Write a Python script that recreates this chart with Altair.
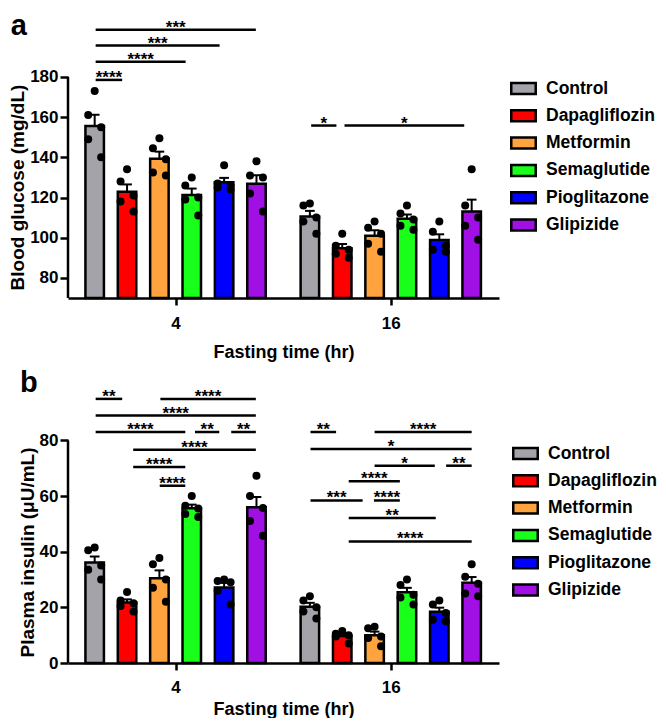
import altair as alt
import pandas as pd

FONT = "Liberation Sans"

treatments = ["Control", "Dapagliflozin", "Metformin", "Semaglutide", "Pioglitazone", "Glipizide"]
colors = ["#a3a3a9", "#ff0000", "#ffa33f", "#1aff1a", "#0000ff", "#a00fe3"]
fasting_groups = ["4", "16"]

# Blood glucose (mg/dL), five mice per bar
glucose_4h = [
    [173, 161, 155, 149, 140],
    [134, 128, 121, 118, 113],
    [149.5, 144.5, 139, 132.5, 131],
    [130, 126, 120, 119, 111],
    [136, 127, 126, 125, 124],
    [138, 131, 130, 122, 113],
]
glucose_16h = [
    [117, 116, 110, 108, 102],
    [102, 96, 94, 92, 90],
    [108, 105, 102, 97, 93],
    [116, 112, 109, 106, 104],
    [108, 103, 96, 94, 93],
    [134, 116, 110, 106, 99],
]
# Plasma insulin (uU/mL)
insulin_4h = [
    [41.5, 40.5, 35, 33.5, 30],
    [25.5, 22.5, 21.5, 20.5, 18.5],
    [37.7, 35.5, 30, 27, 22],
    [60, 56.5, 55.5, 53.5, 52.5],
    [30, 29.5, 29, 26, 21],
    [67.3, 60, 55.7, 51, 45.7],
]
insulin_16h = [
    [24, 22.5, 20, 18.5, 16],
    [11.5, 10.5, 10, 9.5, 7],
    [13, 12.5, 9.5, 9, 6],
    [30, 28, 24.5, 23.5, 21],
    [22.5, 21, 18, 15.5, 15],
    [35.5, 31, 28.5, 25, 24],
]

# significance brackets: start / end (bar index units), height, label
sig_a_start = [0.03, 0.03, 0.03, 0.03, 6.69, 7.72]
sig_a_end = [0.85, 2.81, 3.86, 4.98, 7.47, 11.42]
sig_a_level = [178.5, 187.5, 195.6, 203.4, 155.8, 155.8]
sig_a_label = ["****", "****", "***", "***", "*", "*"]

sig_b_start = [0.03, 2.03, 0.03, 0.03, 3.10, 4.22, 1.19, 1.19, 2.01,
               6.67, 8.65, 6.67, 8.65, 10.86, 7.85, 6.67, 8.63, 7.85, 7.85]
sig_b_end = [0.85, 4.98, 4.98, 2.80, 3.85, 4.98, 4.98, 2.80, 2.80,
             7.46, 11.65, 11.65, 10.51, 11.65, 9.43, 8.28, 9.43, 10.54, 11.65]
sig_b_level = [94.9, 94.9, 88.9, 83.0, 83.0, 83.0, 76.6, 70.4, 63.7,
               83.0, 83.0, 76.9, 70.9, 70.9, 65.3, 58.4, 58.4, 52.1, 43.7]
sig_b_label = ["**", "****", "****", "****", "**", "**", "****", "****", "****",
               "**", "****", "*", "*", "**", "****", "***", "****", "**", "****"]

GROUP_GAP = 6.65
JITTER = [0.0, -0.2, 0.2, -0.2, 0.2]
X_DOMAIN = [-0.67, 12.34]
PLOT_W = 431


def long_table(series_by_group):
    rows = []
    for gi, series in enumerate(series_by_group):
        for ti, vals in enumerate(series):
            for k, v in enumerate(vals):
                rows.append({"group": fasting_groups[gi], "treatment": treatments[ti],
                             "pos": ti + gi * GROUP_GAP, "jit": JITTER[k % len(JITTER)],
                             "value": v})
    return pd.DataFrame(rows)


def sig_table(s, e, lv, lb):
    return pd.DataFrame({"x1": s, "x2": e, "level": lv, "label": lb})


def panel(df, sig, ymin, ymax, ytop_axis, yticks, ytitle, height, letter, title_offset,
          title_center, legend_x, legend_y, x_title_pad, x_label_pad):
    xscale = alt.Scale(domain=X_DOMAIN, nice=False, zero=False)
    yscale = alt.Scale(domain=[ymin, ymax], nice=False, zero=False)
    x_axis = alt.Axis(values=[2.5, 2.5 + GROUP_GAP],
                      labelExpr="datum.value < 5 ? '4' : '16'",
                      grid=False, domainColor="black", domainWidth=2.5,
                      tickColor="black", tickWidth=2.5, tickSize=7,
                      labelFont=FONT, labelFontSize=17, labelFontWeight="bold",
                      labelColor="black", labelPadding=x_label_pad,
                      titleFont=FONT, titleFontSize=18, titleFontWeight="bold",
                      titleColor="black", titlePadding=x_title_pad)
    y_axis = alt.Axis(values=yticks, grid=False, domain=False,
                      tickColor="black", tickWidth=2.5, tickSize=8,
                      labelFont=FONT, labelFontSize=17, labelFontWeight="bold",
                      labelColor="black", labelPadding=2,
                      titleFont=FONT, titleFontSize=19, titleFontWeight="bold",
                      titleColor="black", titlePadding=2, titleY=title_center)
    xt = "Fasting time (hr)"
    base = alt.Chart(df)
    bars = base.transform_aggregate(
        mean="mean(value)", groupby=["pos", "treatment"]
    ).mark_bar(size=18.5, stroke="black", strokeWidth=2.5).encode(
        x=alt.X("pos:Q", scale=xscale, axis=x_axis, title=xt),
        y=alt.Y("mean:Q", scale=yscale, axis=y_axis, title=ytitle),
        y2=alt.datum(ymin),
        color=alt.Color("treatment:N", scale=alt.Scale(domain=treatments, range=colors),
                        legend=alt.Legend(title=None, orient="none",
                                          legendX=legend_x, legendY=legend_y,
                                          symbolType="M-1,-0.45H1V0.45H-1Z",
                                          symbolSize=600, symbolStrokeColor="black",
                                          symbolStrokeWidth=2.5, symbolOpacity=1,
                                          labelFont=FONT, labelFontSize=17.5,
                                          labelFontWeight="bold", labelColor="black",
                                          labelOffset=9, rowPadding=2.3, padding=0)),
    )
    err = base.transform_aggregate(
        mean="mean(value)", sem="stderr(value)", groupby=["pos"]
    ).transform_calculate(
        upper="datum.mean + datum.sem", xl="datum.pos - 0.15", xr="datum.pos + 0.15"
    )
    stem = err.mark_rule(color="black", strokeWidth=2).encode(
        x=alt.X("pos:Q", title=xt), y=alt.Y("mean:Q", title=ytitle), y2="upper:Q")
    cap = err.mark_rule(color="black", strokeWidth=2).encode(
        x=alt.X("xl:Q", title=xt), x2="xr:Q", y=alt.Y("upper:Q", title=ytitle))
    pts = base.transform_calculate(px="datum.pos + datum.jit").mark_circle(
        size=64, color="black", opacity=1).encode(
        x=alt.X("px:Q", title=xt), y=alt.Y("value:Q", title=ytitle))
    yline = alt.Chart(pd.DataFrame({"lo": [ymin], "hi": [ytop_axis]})).mark_rule(
        color="black", strokeWidth=2.5).encode(
        x=alt.value(0), y=alt.Y("lo:Q", title=ytitle), y2="hi:Q")
    sig_base = alt.Chart(sig)
    sig_rules = sig_base.mark_rule(color="black", strokeWidth=2.5).encode(
        x=alt.X("x1:Q", title=xt), x2="x2:Q", y=alt.Y("level:Q", title=ytitle))
    sig_text = sig_base.transform_calculate(xm="(datum.x1 + datum.x2) / 2").mark_text(
        font=FONT, fontSize=17, fontWeight="bold", color="black",
        baseline="alphabetic", dy=3).encode(
        x=alt.X("xm:Q", title=xt), y=alt.Y("level:Q", title=ytitle), text="label:N")
    return alt.layer(bars, stem, cap, pts, yline, sig_rules, sig_text).properties(
        width=PLOT_W, height=height,
        title=alt.TitleParams(letter, anchor="start", frame="bounds", fontSize=29,
                              fontWeight="bold", font=FONT, color="black",
                              offset=title_offset, dx=2))


HA = 290
ymax_a = 70 + HA / 2.01
panel_a = panel(long_table([glucose_4h, glucose_16h]),
                sig_table(sig_a_start, sig_a_end, sig_a_level, sig_a_label),
                70, ymax_a, 180, [80, 100, 120, 140, 160, 180],
                "Blood glucose (mg/dL)", HA, "a", -33,
                179, 442, 67, 12, 10)

HB = 288
ymax_b = HB / 2.783
panel_b = panel(long_table([insulin_4h, insulin_16h]),
                sig_table(sig_b_start, sig_b_end, sig_b_level, sig_b_label),
                0, ymax_b, 80, [0, 20, 40, 60, 80],
                "Plasma insulin (\u03bcU/mL)", HB, "b", -23,
                177, 444, 65, 5, 9)

chart = alt.vconcat(panel_a, panel_b, spacing=8).resolve_legend(
    color="independent").properties(
    padding={"left": 0, "top": 0, "right": 0, "bottom": 0}
).configure_view(stroke=None)

chart.save("out.html", embed_options={"renderer": "svg", "actions": False})
